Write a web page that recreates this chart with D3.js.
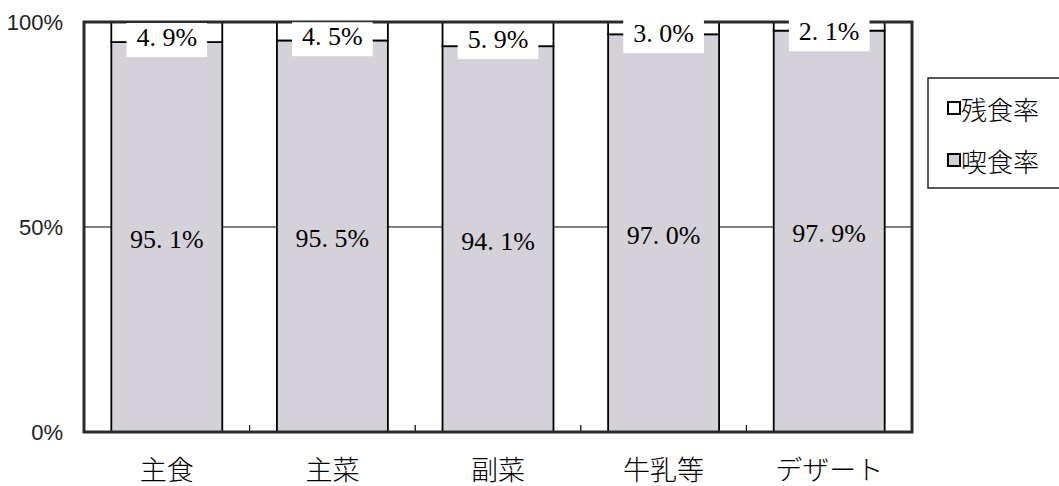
<!DOCTYPE html>
<html><head><meta charset="utf-8">
<script src="https://cdn.jsdelivr.net/npm/d3@7"></script>
<style>body{margin:0;background:#fff}svg{display:block}</style>
</head><body>
<svg id="c" width="1059" height="486"></svg>
<script>
const categories = ["主食", "主菜", "副菜", "牛乳等", "デザート"];
const eatenRate = [95.1, 95.5, 94.1, 97.0, 97.9];   // 喫食率
const leftoverRate = [4.9, 4.5, 5.9, 3.0, 2.1];     // 残食率
const yTicks = [0, 50, 100];
const seriesNames = ["残食率", "喫食率"];

const svg = d3.select("#c");
const L = 84, R = 912, T = 22, B = 432;
const x = d3.scaleBand().domain(categories).range([L, R]).paddingInner(0.33).paddingOuter(0.165);
const y = d3.scaleLinear().domain([0, 100]).range([B, T]);
const gray = "#d5d1d8";
const numFmt = v => d3.format(".1f")(v).replace(".", ". ") + "%";
const serif = "Liberation Serif, DejaVu Serif, Noto Serif CJK JP, serif";

svg.append("g").selectAll("line").data(yTicks.filter(t => t > 0 && t < 100)).join("line")
  .attr("x1", L).attr("x2", R).attr("y1", d => y(d)).attr("y2", d => y(d))
  .attr("stroke", "#000").attr("stroke-width", 1.2);

const bounds = categories.slice(1).map(c => x(c) - x.step() * x.paddingInner() / 2);
svg.append("g").selectAll("line").data(bounds).join("line")
  .attr("x1", d => d).attr("x2", d => d).attr("y1", B).attr("y2", B - 7)
  .attr("stroke", "#000").attr("stroke-width", 1.2);

const g = svg.append("g");
categories.forEach((c, i) => {
  g.append("rect").attr("x", x(c)).attr("width", x.bandwidth())
    .attr("y", y(eatenRate[i])).attr("height", y(0) - y(eatenRate[i]))
    .attr("fill", gray).attr("stroke", "#000").attr("stroke-width", 1.8);
  g.append("rect").attr("x", x(c)).attr("width", x.bandwidth())
    .attr("y", y(100)).attr("height", y(eatenRate[i]) - y(100))
    .attr("fill", "#fff").attr("stroke", "#000").attr("stroke-width", 1.8);
});

svg.append("rect").attr("x", L).attr("y", T).attr("width", R - L).attr("height", B - T)
  .attr("fill", "none").attr("stroke", "#2a2a2a").attr("stroke-width", 3);

categories.forEach((c, i) => {
  const cx = x(c) + x.bandwidth() / 2;
  const cy = y(100 - leftoverRate[i] / 2) + 5;
  const t = svg.append("text").attr("x", cx).attr("y", cy).attr("text-anchor", "middle")
    .attr("dominant-baseline", "central")
    .style("font-family", serif).attr("font-size", 26)
    .text(numFmt(leftoverRate[i]));
  const bb = t.node().getBBox();
  svg.insert("rect", () => t.node()).attr("x", bb.x - 10).attr("y", cy - 14)
    .attr("width", bb.width + 20).attr("height", 34).attr("fill", "#fff");
});

svg.append("g").selectAll("text").data(categories).join("text")
  .attr("x", c => x(c) + x.bandwidth() / 2)
  .attr("y", (c, i) => y(eatenRate[i] / 2) + 2)
  .attr("text-anchor", "middle").attr("dominant-baseline", "central")
  .style("font-family", serif).attr("font-size", 26)
  .text((c, i) => numFmt(eatenRate[i]));

svg.append("g").selectAll("text").data(yTicks).join("text")
  .attr("x", 63).attr("y", d => y(d)).attr("text-anchor", "end").attr("dominant-baseline", "central")
  .style("font-family", "Liberation Sans Narrow, Liberation Sans, sans-serif").attr("font-size", 22)
  .attr("fill", "#222")
  .text(d => d + "%");

svg.append("g").selectAll("text").data(categories).join("text")
  .attr("x", c => x(c) + x.bandwidth() / 2).attr("y", 468)
  .attr("text-anchor", "middle").attr("dominant-baseline", "central")
  .style("font-family", "Noto Sans CJK JP, sans-serif").attr("font-size", 27).attr("font-weight", 300)
  .text(c => c);

const lg = svg.append("g");
lg.append("rect").attr("x", 928).attr("y", 78).attr("width", 140).attr("height", 110)
  .attr("fill", "#fff").attr("stroke", "#222").attr("stroke-width", 1.5);
const legColors = ["#fff", gray];
seriesNames.forEach((n, i) => {
  const cy = 108 + i * 52;
  lg.append("rect").attr("x", 948).attr("y", cy - 6).attr("width", 12).attr("height", 12)
    .attr("fill", legColors[i]).attr("stroke", "#000").attr("stroke-width", 2);
  lg.append("text").attr("x", 961).attr("y", cy).attr("dominant-baseline", "central")
    .style("font-family", "Noto Sans CJK JP, sans-serif").attr("font-size", 26).attr("font-weight", 300)
    .text(n);
});
</script>
</body></html>
